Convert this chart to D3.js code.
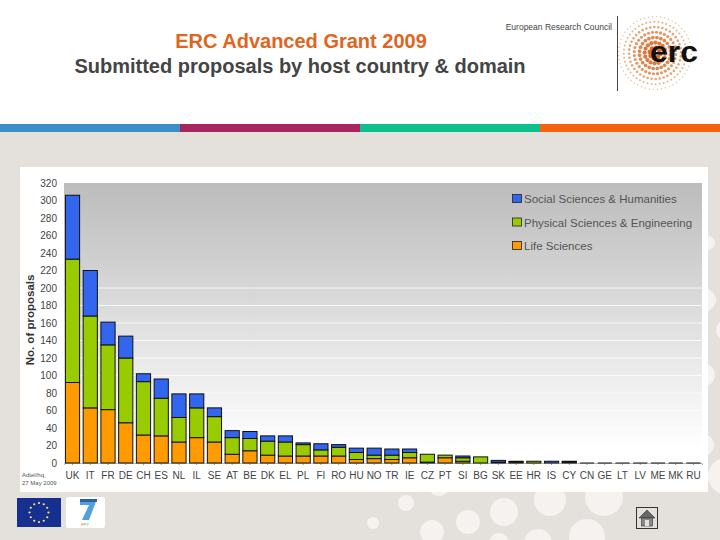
<!DOCTYPE html>
<html>
<head>
<meta charset="utf-8">
<script src="https://cdn.jsdelivr.net/npm/d3@7"></script>
<style>
  html, body { margin: 0; padding: 0; background: #e4e0dc; }
  svg { display: block; }
  text { font-family: "Liberation Sans", Arial, sans-serif; }
</style>
</head>
<body>
<svg id="chart" width="720" height="540"></svg>
<script>
// Data

const countries = ["UK", "IT", "FR", "DE", "CH", "ES", "NL", "IL", "SE", "AT", "BE", "DK", "EL", "PL", "FI", "RO", "HU", "NO", "TR", "IE", "CZ", "PT", "SI", "BG", "SK", "EE", "HR", "IS", "CY", "CN", "GE", "LT", "LV", "ME", "MK", "RU"];
const lifeSciences = [92, 63, 61, 46, 32, 31, 24, 29, 24, 10, 14, 9, 8, 8, 8, 8, 4, 5, 4, 6, 1, 6, 2, 0, 0, 1, 0, 0, 1, 0, 0, 0, 0, 0, 0, 0];
const physicalSciences = [141, 105, 74, 74, 61, 43, 28, 34, 29, 19, 14, 16, 16, 13, 7, 10, 8, 4, 5, 6, 9, 3, 4, 7, 1, 1, 2, 0, 1, 0, 0, 0, 0, 0, 0, 0];
const socialSciences = [73, 52, 26, 25, 9, 22, 27, 16, 10, 8, 8, 6, 7, 2, 7, 3, 5, 8, 7, 4, 0, 0, 2, 0, 2, 0, 0, 2, 0, 0, 0, 0, 0, 0, 0, 0];
const domains = ["Life Sciences", "Physical Sciences & Engineering", "Social Sciences & Humanities"];
const domainColors = ["#ff9a00", "#99cc00", "#3366ee"];
const yTicks = d3.range(0, 321, 20);
const gridTicks = d3.range(20, 201, 20);

// Page decoration
const stripeColors = ["#3a8fc6", "#a9255f", "#0fc08f", "#f4620f"];
const bubbles = [[708, 243, 7], [705, 300, 11], [726, 330, 10], [704, 375, 11], [703, 445, 11], [726, 476, 18],
    [373, 523, 6], [406, 503, 8], [439, 485, 11], [468, 522, 12], [504, 512, 14], [432, 532, 12], [550, 500, 16], [604, 497, 19], [587, 537, 18], [499, 543, 10], [538, 543, 14]];

const svg = d3.select("#chart");

const p = { left: 64, right: 702, top: 183, bottom: 463 };

bubbles.forEach(b => {
    svg.append("circle").attr("cx", b[0]).attr("cy", b[1]).attr("r", b[2]).attr("fill", "#f5f2f0");
});

// Header

svg.append("rect").attr("width", 720).attr("height", 124).attr("fill", "#fff");

const stripe = d3.scaleBand().domain(d3.range(4)).range([0, 720]);
svg.selectAll(".stripe").data(stripeColors).join("rect")
    .attr("class", "stripe")
    .attr("x", (d, i) => stripe(i))
    .attr("y", 124)
    .attr("width", stripe.bandwidth())
    .attr("height", 8)
    .attr("fill", d => d);

svg.append("text").attr("x", 301).attr("y", 48)
    .attr("text-anchor", "middle").attr("font-size", 20).attr("font-weight", "bold").attr("fill", "#e0651e")
    .text("ERC Advanced Grant 2009");
svg.append("text").attr("x", 300).attr("y", 72.5)
    .attr("text-anchor", "middle").attr("font-size", 20).attr("font-weight", "bold").attr("fill", "#444")
    .text("Submitted proposals by host country & domain");
svg.append("text").attr("x", 612).attr("y", 30)
    .attr("text-anchor", "end").attr("font-size", 8.5).attr("fill", "#444")
    .text("European Research Council");
svg.append("line").attr("x1", 617.5).attr("x2", 617.5).attr("y1", 16).attr("y2", 91).attr("stroke", "#444");

// ERC logo: dots on rings around the centre
const logo = svg.append("g").attr("transform", "translate(655,53)");
d3.range(1, 8).forEach(ring => {
    const n = ring * 8;
    d3.range(n).forEach(k => {
        const a = 2 * Math.PI * k / n + ring;
        const r = ring * 5.2;
        logo.append("circle")
            .attr("cx", r * Math.cos(a))
            .attr("cy", r * Math.sin(a))
            .attr("r", Math.max(0.7, 2.7 - ring * 0.28))
            .attr("fill", d3.interpolateRgb("#d4601f", "#ecc09a")(ring / 7));
    });
});
svg.append("text").attr("x", 674).attr("y", 62)
    .attr("text-anchor", "middle").attr("font-size", 30).attr("font-weight", "bold").attr("fill", "#111")
    .attr("textLength", 48).attr("lengthAdjust", "spacingAndGlyphs")
    .text("erc");

// Chart panel

svg.append("rect").attr("x", 20).attr("y", 167).attr("width", 688).attr("height", 325).attr("fill", "#fff");

const grad = svg.append("defs").append("linearGradient")
    .attr("id", "plotbg").attr("x1", 0).attr("x2", 0).attr("y1", 0).attr("y2", 1);
grad.append("stop").attr("offset", "0%").attr("stop-color", "#bcbcbc");
grad.append("stop").attr("offset", "95%").attr("stop-color", "#ffffff");

const x = d3.scaleBand().domain(countries).range([p.left, p.right]).paddingInner(0.2).paddingOuter(0.08);
const y = d3.scaleLinear().domain([0, 320]).range([p.bottom, p.top]);

svg.append("rect")
    .attr("x", p.left).attr("y", p.top)
    .attr("width", p.right - p.left).attr("height", p.bottom - p.top)
    .attr("fill", "url(#plotbg)");

// Grid

svg.append("g").selectAll("line").data(gridTicks).join("line")
    .attr("x1", p.left).attr("x2", p.right)
    .attr("y1", d => y(d)).attr("y2", d => y(d))
    .attr("stroke", "#fff").attr("stroke-opacity", 0.8);

// Axes

const yAxis = svg.append("g")
    .attr("transform", `translate(${p.left},0)`)
    .call(d3.axisLeft(y).tickValues(yTicks).tickSize(0).tickPadding(7));
yAxis.select(".domain").remove();
yAxis.selectAll("text").attr("font-size", 10).attr("font-family", null).attr("fill", "#444");

const xAxis = svg.append("g")
    .attr("transform", `translate(0,${p.bottom})`)
    .call(d3.axisBottom(x).tickSize(2).tickPadding(7));
xAxis.select(".domain").attr("stroke", "#bbb");
xAxis.selectAll("line").attr("stroke", "#999");
xAxis.selectAll("text").attr("font-size", 10).attr("font-family", null).attr("fill", "#444");

svg.append("text")
    .attr("transform", "translate(34,320) rotate(-90)")
    .attr("text-anchor", "middle").attr("font-size", 11.5).attr("font-weight", "bold").attr("fill", "#333")
    .text("No. of proposals");

svg.append("text").attr("x", 22).attr("y", 477).attr("font-size", 6).attr("fill", "#555").text("Adtel/hq,");
svg.append("text").attr("x", 22).attr("y", 485).attr("font-size", 6).attr("fill", "#555").text("27 May 2009");

// Bars

const stacked = d3.stack().keys([0, 1, 2]).value((d, k) => d[k])(
    countries.map((c, i) => [lifeSciences[i], physicalSciences[i], socialSciences[i]])
);

stacked.forEach((layer, k) => {
    svg.append("g").selectAll("rect").data(layer).join("rect")
        .attr("x", (d, i) => x(countries[i]))
        .attr("y", d => y(d[1]))
        .attr("width", x.bandwidth())
        .attr("height", d => y(d[0]) - y(d[1]))
        .attr("fill", domainColors[k])
        .attr("stroke", d => d[1] > d[0] ? "#111" : "none")
        .attr("stroke-width", 1);
});

// Thin line for countries with next to nothing
svg.append("g").selectAll("line")
    .data(countries.filter((c, i) => lifeSciences[i] + physicalSciences[i] + socialSciences[i] === 0))
    .join("line")
    .attr("x1", d => x(d)).attr("x2", d => x(d) + x.bandwidth())
    .attr("y1", y(0)).attr("y2", y(0))
    .attr("stroke", "#111");

// Legend

const legendRows = [2, 1, 0];
const legendY = d3.scalePoint().domain(legendRows).range([199, 246]);

legendRows.forEach(k => {
    svg.append("rect")
        .attr("x", 512.5).attr("y", legendY(k) - 4.5)
        .attr("width", 9).attr("height", 8)
        .attr("fill", domainColors[k]).attr("stroke", "#222").attr("stroke-width", 0.8);
    svg.append("text")
        .attr("x", 524).attr("y", legendY(k) + 4)
        .attr("font-size", 11.5).attr("fill", "#555")
        .text(domains[k]);
});

// EU flag

svg.append("rect").attr("x", 17).attr("y", 498).attr("width", 44).attr("height", 29).attr("fill", "#16308f");
d3.range(12).forEach(i => {
    const a = 2 * Math.PI * i / 12;
    svg.append("circle")
        .attr("cx", 39 + 9.5 * Math.cos(a))
        .attr("cy", 512.5 + 9.5 * Math.sin(a))
        .attr("r", 1.1)
        .attr("fill", "#ffe680");
});

// FP7 logo

svg.append("rect").attr("x", 66).attr("y", 497).attr("width", 39).attr("height", 31).attr("rx", 2).attr("fill", "#fff");
svg.append("path").attr("d", "M80 499 H97 L89 520 H82 L89 505 H80 Z").attr("fill", "#4fa3dc");
svg.append("rect").attr("x", 80).attr("y", 499).attr("width", 17).attr("height", 3).attr("fill", "#2b5fa8");
svg.append("text").attr("x", 85).attr("y", 525.5)
    .attr("text-anchor", "middle").attr("font-size", 4).attr("fill", "#a08030")
    .text("FP7");

// Home button

svg.append("rect").attr("x", 636.5).attr("y", 507.5).attr("width", 21).attr("height", 21).attr("fill", "#e4e0dc").attr("stroke", "#333");
svg.append("path").attr("d", "M639 518 L647 510 L655 518 Z").attr("fill", "#666").attr("stroke", "#333").attr("stroke-width", 0.6);
svg.append("rect").attr("x", 641.5).attr("y", 518).attr("width", 11).attr("height", 8).attr("fill", "#888").attr("stroke", "#333").attr("stroke-width", 0.6);
svg.append("rect").attr("x", 645).attr("y", 520).attr("width", 4).attr("height", 6).attr("fill", "#e4e0dc");
</script>
</body>
</html>
